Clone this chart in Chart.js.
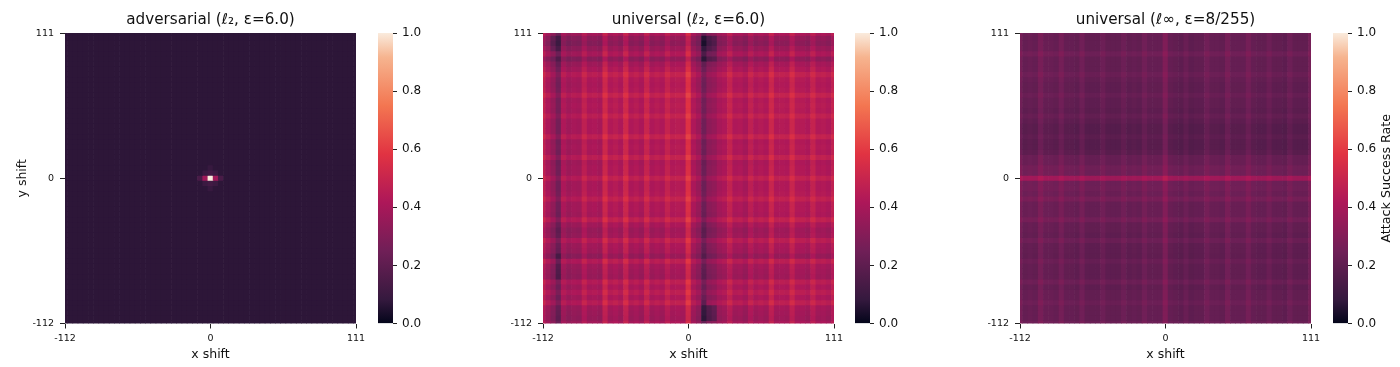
<!DOCTYPE html>
<html>
<head>
<meta charset="utf-8">
<title>Attack success rate heatmaps</title>
<script src="https://cdn.jsdelivr.net/npm/chart.js@4"></script>
<style>
  body { margin: 0; background: #fff; width: 1400px; height: 367px; overflow: hidden; }
  canvas { position: absolute; top: 0; }
</style>
</head>
<body>
<canvas id="heat1" width="372" height="367" style="left:0"></canvas>
<canvas id="bar1" width="85" height="367" style="left:360px"></canvas>
<canvas id="heat2" width="372" height="367" style="left:478px"></canvas>
<canvas id="bar2" width="85" height="367" style="left:837px"></canvas>
<canvas id="heat3" width="372" height="367" style="left:955px"></canvas>
<canvas id="bar3" width="85" height="367" style="left:1315px"></canvas>
<script>
// shift of each cell, 4px apart
const shifts = [-112,-108,-104,-100,-96,-92,-88,-84,-80,-76,-72,-68,-64,-60,-56,-52,-48,-44,-40,-36,-32,-28,-24,-20,-16,-12,-8,-4,0,4,8,12,16,20,24,28,32,36,40,44,48,52,56,60,64,68,72,76,80,84,88,92,96,100,104,108,112];
const tickIndex = [0, 28, 56];
const xTickLabels = ['-112', '0', '111'];
const yTickLabels = ['-112', '0', '111'];
const colorbarTicks = [0, 0.2, 0.4, 0.6, 0.8, 1];
const titles = ['adversarial (ℓ₂, ε=6.0)', 'universal (ℓ₂, ε=6.0)', 'universal (ℓ∞, ε=8/255)'];

// Values estimated by eye. The map is close to a column effect plus a row
// effect, so each panel keeps one list per direction plus the local spots.
const advColumns = [.07,.07,.07,.07,.07,.07,.07,.07,.07,.07,.07,.07,.07,.07,.07,.07,.07,.07,.07,.07,.07,.07,.07,.07,.07,.07,.07,.07,.07,.07,.07,.07,.07,.07,.07,.07,.07,.07,.07,.07,.07,.07,.07,.07,.07,.07,.07,.07,.07,.07,.07,.07,.07,.07,.07,.07,.07];
const advRows = [0,0,0,0,0,0,0,0,0,0,0,0,0,0,0,0,0,0,0,0,0,0,0,0,0,0,0,0,0,0,0,0,0,0,0,0,0,0,0,0,0,0,0,0,0,0,0,0,0,0,0,0,0,0,0,0,0];
const advSpots = [[28,28,.93],[27,28,.31],[29,28,.31],[26,28,.07],[30,28,.07],[28,27,.05],[28,29,.05],[27,27,.03],[29,27,.03],[27,29,.03],[29,29,.03],[28,26,.02],[28,30,.02]];

const l2Columns = [.48,.41,.35,.26,.42,.38,.40,.39,.47,.41,.42,.40,.52,.43,.45,.42,.52,.42,.44,.41,.50,.42,.44,.42,.49,.44,.45,.44,.57,.42,.37,.25,.33,.35,.40,.42,.49,.42,.43,.40,.47,.42,.44,.42,.51,.43,.44,.43,.51,.44,.44,.42,.49,.43,.44,.42,.48];
const l2Rows = [-.02,-.09,-.11,-.07,-.02,-.10,-.04,-.01,.04,0,-.01,0,.05,0,.01,0,.04,0,0,0,.05,-.01,0,-.01,.04,-.02,-.01,-.01,.04,-.01,-.01,0,.04,-.01,-.01,-.02,.04,-.03,-.06,-.05,.02,-.03,-.04,-.08,.02,-.04,-.05,-.06,.02,-.02,.02,-.02,.03,-.04,-.05,-.06,-.03];
const l2Spots = [[31,1,-.1],[32,1,-.1],[33,1,-.08],[31,2,-.1],[32,2,-.1],[33,2,-.08],[31,3,-.1],[32,3,-.1],[33,3,-.08],[31,4,-.08],[32,4,-.06],[33,4,-.06],[31,5,-.08],[32,5,-.06],[33,5,-.06],[2,1,-.05],[3,1,-.05],[2,2,-.05],[3,2,-.05],[2,3,-.05],[3,3,-.05],[31,52,-.08],[31,53,-.12],[32,53,-.12],[33,53,-.1],[31,54,-.12],[32,54,-.12],[33,54,-.1],[31,55,-.12],[32,55,-.12],[33,55,-.1],[3,43,-.05],[3,44,-.05],[3,45,-.05],[3,46,-.05],[3,47,-.05]];

const linfColumns = [.28,.24,.25,.24,.29,.25,.25,.24,.28,.24,.24,.23,.27,.23,.23,.23,.26,.23,.23,.23,.26,.23,.24,.23,.27,.24,.24,.24,.31,.24,.23,.22,.25,.22,.23,.23,.27,.24,.24,.23,.28,.24,.24,.24,.28,.24,.23,.23,.26,.23,.23,.22,.26,.23,.23,.23,.28];
const linfRows = [-.01,-.02,-.02,-.02,.01,-.02,-.02,-.02,0,-.02,-.03,-.03,-.01,-.03,-.03,-.04,-.02,-.04,-.055,-.055,-.04,-.055,-.055,-.045,-.01,-.01,.015,.01,.14,.01,.015,0,.03,-.01,-.01,-.01,.02,-.02,-.02,-.03,0,-.03,-.03,-.035,-.01,-.03,-.03,-.03,0,-.03,-.02,-.02,0,-.02,-.02,-.02,0];
const linfSpots = [];

// seaborn rocket colormap
const rocket = ['#03051a','#35193e','#701f57','#ad1759','#e13342','#f37651','#f6b48f','#faebdd'];
const rocketAt = [0, .0833, .25, .4167, .5833, .75, .9167, 1];

function hexRgb(h) {
  return [parseInt(h.slice(1, 3), 16), parseInt(h.slice(3, 5), 16), parseInt(h.slice(5, 7), 16)];
}

function colorFor(v) {
  v = Math.max(0, Math.min(1, v));
  let i = 0;
  while (i < rocketAt.length - 2 && v > rocketAt[i + 1]) i++;
  const t = (v - rocketAt[i]) / (rocketAt[i + 1] - rocketAt[i]);
  const a = hexRgb(rocket[i]), b = hexRgb(rocket[i + 1]);
  return 'rgb(' + a.map((c, k) => Math.round(c + (b[k] - c) * t)).join(',') + ')';
}

const fontName = '"DejaVu Sans"';

function tickedScale(labels, size, pad) {
  return {
    min: 0,
    max: 56,
    afterBuildTicks: s => { s.ticks = tickIndex.map(v => ({ value: v })); },
    ticks: {
      autoSkip: false, maxRotation: 0, minRotation: 0, color: '#111', padding: pad,
      font: { family: fontName, size: size },
      callback: function (v) { return labels[tickIndex.indexOf(v)]; }
    },
    grid: { offset: false, drawOnChartArea: false, drawTicks: true, tickLength: 5, tickColor: '#222', tickWidth: 1 },
    border: { display: false }
  };
}

function drawHeat(id, index, columns, rows, spots, yTitle) {
  // rows are listed top to bottom; each bar runs a little over its neighbour so no seam shows
  const datasets = rows.map((delta, r) => {
    const row = 56 - r;
    return {
      data: columns.map(c => [row - 0.5, row + 0.65]),
      backgroundColor: columns.map((c, k) => {
        const spot = spots.find(s => s[0] === k && s[1] === r);
        return colorFor(c + delta + (spot ? spot[2] : 0));
      }),
      borderWidth: 0,
      barPercentage: 1.12,
      categoryPercentage: 1,
      grouped: false
    };
  });

  const y = tickedScale(yTickLabels, 9.5, 6);
  y.title = { display: !!yTitle, text: yTitle, color: '#111', font: { family: fontName, size: 12.5 }, padding: { top: 15, bottom: 0 } };
  y.afterFit = s => { s.width = 65; };

  const x = tickedScale(xTickLabels, 9.5, 4);
  x.type = 'category';
  x.offset = false;
  delete x.min;
  delete x.max;
  x.title = { display: true, text: 'x shift', color: '#111', font: { family: fontName, size: 12.5 }, padding: { top: 0, bottom: 5 } };
  x.afterFit = s => { s.height = 43.5; };

  new Chart(document.getElementById(id), {
    type: 'bar',
    data: { labels: shifts, datasets: datasets },
    options: {
      responsive: false,
      animation: false,
      events: [],
      layout: { autoPadding: false, padding: { right: 16, left: 0, top: 0, bottom: 0 } },
      plugins: {
        legend: { display: false },
        tooltip: { enabled: false },
        title: {
          display: true, text: titles[index], color: '#111', fullSize: false,
          font: { family: fontName, size: 15.2, weight: 'normal' },
          padding: { top: 10.8, bottom: 4 }
        }
      },
      scales: { x: x, y: y }
    }
  });
}

// matplotlib reads this label bottom to top, the axis title option cannot do that on the right side
const sideLabel = {
  id: 'sideLabel',
  afterDraw(chart, args, opts) {
    if (!opts.text) return;
    const ctx = chart.ctx;
    ctx.save();
    ctx.translate(chart.chartArea.right + 39, (chart.chartArea.top + chart.chartArea.bottom) / 2);
    ctx.rotate(-Math.PI / 2);
    ctx.font = '12.7px ' + fontName;
    ctx.fillStyle = '#111';
    ctx.textAlign = 'center';
    ctx.textBaseline = 'middle';
    ctx.fillText(opts.text, 0, 0);
    ctx.restore();
  }
};

function drawColorbar(id, label) {
  new Chart(document.getElementById(id), {
    type: 'bar',
    data: {
      labels: ['rate'],
      datasets: [{
        data: [[0, 1]],
        borderWidth: 0,
        barPercentage: 1,
        categoryPercentage: 1,
        backgroundColor: c => {
          const area = c.chart.chartArea;
          if (!area) return '#000';
          const g = c.chart.ctx.createLinearGradient(0, area.bottom, 0, area.top);
          rocket.forEach((col, i) => g.addColorStop(rocketAt[i], col));
          return g;
        }
      }]
    },
    plugins: [sideLabel],
    options: {
      responsive: false,
      animation: false,
      events: [],
      layout: { autoPadding: false, padding: { left: 18, top: 33, bottom: 43.5, right: 0 } },
      plugins: { legend: { display: false }, tooltip: { enabled: false }, sideLabel: { text: label } },
      scales: {
        x: { display: false },
        y: {
          position: 'right',
          min: 0,
          max: 1,
          afterBuildTicks: s => { s.ticks = colorbarTicks.map(v => ({ value: v })); },
          afterFit: s => { s.width = 52; },
          ticks: {
            color: '#111', padding: 5,
            font: { family: fontName, size: 12 },
            callback: v => v.toFixed(1)
          },
          grid: { drawOnChartArea: false, drawTicks: true, tickLength: 4, tickColor: '#222', tickWidth: 1 },
          border: { display: false }
        }
      }
    }
  });
}

drawHeat('heat1', 0, advColumns, advRows, advSpots, 'y shift');
drawHeat('heat2', 1, l2Columns, l2Rows, l2Spots, '');
drawHeat('heat3', 2, linfColumns, linfRows, linfSpots, '');
drawColorbar('bar1', '');
drawColorbar('bar2', '');
drawColorbar('bar3', 'Attack Success Rate');
</script>
</body>
</html>
